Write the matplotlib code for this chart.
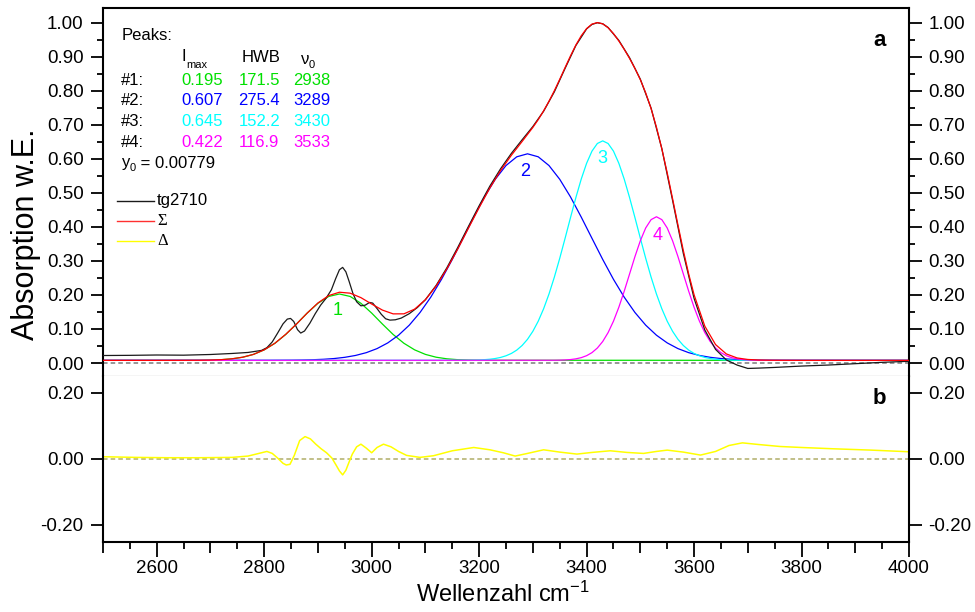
import matplotlib
matplotlib.use('Agg')
import matplotlib.pyplot as plt
from matplotlib.lines import Line2D
from matplotlib.ticker import MultipleLocator, FuncFormatter

W, H = 975, 612
plt.rcParams['font.family'] = ['Liberation Sans', 'DejaVu Sans']
plt.rcParams['mathtext.default'] = 'regular'

# fit parameters shown in the chart
PEAK_IMAX = [0.195, 0.607, 0.645, 0.422]
PEAK_HWB = [171.5, 275.4, 152.2, 116.9]
PEAK_NU0 = [2938, 3289, 3430, 3533]
Y0 = 0.00779

# measured spectrum tg2710
BLACK_WN = [2500, 2550, 2600, 2650, 2700, 2740, 2770, 2795, 2805, 2815, 2825, 2835, 2843, 2849,
            2855, 2862, 2868, 2875, 2885, 2895, 2905, 2915, 2925, 2933, 2940, 2946, 2952, 2958,
            2965, 2972, 2980, 2988, 2996, 3002, 3010, 3018, 3026, 3034, 3044, 3055, 3070, 3085,
            3100, 3120, 3140, 3160, 3180, 3200, 3220, 3240, 3260, 3280, 3300, 3320, 3340, 3360,
            3380, 3400, 3410, 3420, 3430, 3440, 3460, 3480, 3500, 3520, 3540, 3560, 3580, 3600,
            3620, 3640, 3660, 3680, 3700, 3720, 3750, 3800, 3850, 3900, 3950, 4000]
BLACK_ABS = [0.022, 0.0225, 0.0235, 0.023, 0.025, 0.028, 0.031, 0.037, 0.045, 0.062, 0.088, 0.115,
             0.129, 0.131, 0.122, 0.098, 0.088, 0.094, 0.117, 0.145, 0.170, 0.190, 0.215, 0.248,
             0.274, 0.281, 0.268, 0.240, 0.205, 0.180, 0.168, 0.170, 0.178, 0.176, 0.160, 0.143,
             0.130, 0.126, 0.127, 0.132, 0.145, 0.163, 0.186, 0.228, 0.280, 0.339, 0.401, 0.462,
             0.520, 0.571, 0.616, 0.656, 0.695, 0.740, 0.797, 0.866, 0.933, 0.982, 0.995, 1.000,
             0.997, 0.986, 0.948, 0.897, 0.834, 0.749, 0.630, 0.478, 0.322, 0.190, 0.097, 0.040,
             0.009, -0.006, -0.016, -0.015, -0.013, -0.009, -0.006, -0.002, 0.002, 0.005]

# sum of fitted peaks
SUM_WN = [2500, 2550, 2600, 2650, 2680, 2700, 2720, 2740, 2760, 2780, 2800, 2820, 2840, 2860,
          2880, 2900, 2920, 2940, 2960, 2980, 3000, 3020, 3040, 3060, 3080, 3100, 3120, 3140,
          3160, 3180, 3200, 3220, 3240, 3260, 3280, 3300, 3310, 3320, 3330, 3340, 3350, 3360,
          3370, 3380, 3390, 3400, 3410, 3420, 3430, 3440, 3450, 3460, 3470, 3480, 3490, 3500,
          3510, 3520, 3530, 3540, 3550, 3560, 3570, 3580, 3590, 3600, 3620, 3640, 3660, 3680,
          3700, 3720, 3740, 3760, 3780, 3800, 3850, 3900, 3950, 4000]
SUM_ABS = [0.0078, 0.0078, 0.0078, 0.0079, 0.0081, 0.0087, 0.0098, 0.0123, 0.0170, 0.0253, 0.0387,
           0.0582, 0.0842, 0.1143, 0.1468, 0.1764, 0.1981, 0.2080, 0.2052, 0.1921, 0.1733, 0.1555,
           0.1444, 0.1445, 0.1583, 0.1860, 0.2262, 0.2767, 0.3343, 0.3959, 0.4566, 0.5145, 0.5658,
           0.6105, 0.6510, 0.6924, 0.7153, 0.7409, 0.7691, 0.8003, 0.8337, 0.8684, 0.9025, 0.9343,
           0.9616, 0.9827, 0.9960, 1.0004, 0.9967, 0.9853, 0.9681, 0.9464, 0.9219, 0.8950, 0.8657,
           0.8326, 0.7938, 0.7477, 0.6930, 0.6296, 0.5588, 0.4830, 0.4058, 0.3308, 0.2616, 0.2007,
           0.1083, 0.0542, 0.0267, 0.0149, 0.0104, 0.0088, 0.0082, 0.0080, 0.0079, 0.0078, 0.0078,
           0.0078, 0.0078, 0.0078]

# peak 1 (green)
P1_WN = [2500, 2680, 2700, 2720, 2740, 2760, 2780, 2800, 2820, 2840, 2860, 2880, 2900, 2920, 2940,
         2960, 2980, 3000, 3020, 3040, 3060, 3080, 3100, 3120, 3140, 3160, 3180, 3200, 4000]
P1_ABS = [0.0078, 0.0081, 0.0087, 0.0098, 0.0123, 0.0170, 0.0253, 0.0386, 0.0580, 0.0838, 0.1145,
          0.1467, 0.1755, 0.1956, 0.2028, 0.1956, 0.1755, 0.1467, 0.1145, 0.0838, 0.0580, 0.0386,
          0.0253, 0.0170, 0.0123, 0.0098, 0.0087, 0.0081, 0.0078]

# peak 2 (blue)
P2_WN = [2500, 2790, 2810, 2830, 2850, 2870, 2890, 2910, 2930, 2950, 2970, 2990, 3010, 3030, 3050,
         3070, 3090, 3110, 3130, 3150, 3170, 3190, 3210, 3230, 3250, 3270, 3290, 3310, 3330, 3350,
         3370, 3390, 3410, 3430, 3450, 3470, 3490, 3510, 3530, 3550, 3570, 3590, 3610, 3630, 3650,
         3670, 3690, 3710, 3730, 3750, 3770, 3790, 4000]
P2_ABS = [0.0078, 0.0079, 0.0079, 0.0081, 0.0083, 0.0088, 0.0096, 0.0109, 0.0131, 0.0167, 0.0222,
          0.0304, 0.0423, 0.0591, 0.0817, 0.1112, 0.1484, 0.1935, 0.2459, 0.3043, 0.3664, 0.4289,
          0.4882, 0.5399, 0.5803, 0.6060, 0.6148, 0.6060, 0.5803, 0.5399, 0.4882, 0.4289, 0.3664,
          0.3043, 0.2459, 0.1935, 0.1484, 0.1112, 0.0817, 0.0591, 0.0423, 0.0304, 0.0222, 0.0167,
          0.0131, 0.0109, 0.0096, 0.0088, 0.0083, 0.0081, 0.0079, 0.0079, 0.0078]

# peak 3 (cyan)
P3_WN = [2500, 3180, 3190, 3200, 3210, 3220, 3230, 3240, 3250, 3260, 3270, 3280, 3290, 3300, 3310,
         3320, 3330, 3340, 3350, 3360, 3370, 3380, 3390, 3400, 3410, 3420, 3430, 3440, 3450, 3460,
         3470, 3480, 3490, 3500, 3510, 3520, 3530, 3540, 3550, 3560, 3570, 3580, 3590, 3600, 3610,
         3620, 3630, 3640, 3650, 3660, 3670, 3680, 4000]
P3_ABS = [0.0078, 0.0082, 0.0085, 0.0089, 0.0098, 0.0111, 0.0132, 0.0164, 0.0212, 0.0281, 0.0379,
          0.0515, 0.0696, 0.0932, 0.1229, 0.1594, 0.2027, 0.2525, 0.3077, 0.3667, 0.4271, 0.4860,
          0.5404, 0.5869, 0.6227, 0.6451, 0.6528, 0.6451, 0.6227, 0.5869, 0.5404, 0.4860, 0.4271,
          0.3667, 0.3077, 0.2525, 0.2027, 0.1594, 0.1229, 0.0932, 0.0696, 0.0515, 0.0379, 0.0281,
          0.0212, 0.0164, 0.0132, 0.0111, 0.0098, 0.0089, 0.0085, 0.0082, 0.0078]

# peak 4 (magenta)
P4_WN = [2500, 3340, 3350, 3360, 3370, 3380, 3390, 3400, 3410, 3420, 3430, 3440, 3450, 3460, 3470,
         3480, 3490, 3500, 3510, 3520, 3530, 3540, 3550, 3560, 3570, 3580, 3590, 3600, 3610, 3620,
         3630, 3640, 3650, 3660, 3670, 3680, 3690, 3700, 3710, 3720, 4000]
P4_ABS = [0.0078, 0.0081, 0.0084, 0.0090, 0.0101, 0.0122, 0.0157, 0.0215, 0.0305, 0.0440, 0.0632,
          0.0893, 0.1229, 0.1639, 0.2110, 0.2618, 0.3128, 0.3593, 0.3969, 0.4213, 0.4298, 0.4213,
          0.3969, 0.3593, 0.3128, 0.2618, 0.2110, 0.1639, 0.1229, 0.0893, 0.0632, 0.0440, 0.0305,
          0.0215, 0.0157, 0.0122, 0.0101, 0.0090, 0.0084, 0.0081, 0.0078]

# residual (panel b)
DELTA_WN = [2500, 2560, 2620, 2680, 2740, 2770, 2790, 2805, 2815, 2825, 2835, 2841, 2848, 2856,
            2866, 2876, 2886, 2896, 2906, 2916, 2926, 2934, 2940, 2946, 2952, 2958, 2964, 2972,
            2980, 2990, 3000, 3010, 3022, 3036, 3050, 3065, 3090, 3115, 3150, 3190, 3220, 3245,
            3267, 3290, 3320, 3350, 3382, 3410, 3444, 3475, 3506, 3530, 3550, 3580, 3612, 3640,
            3665, 3690, 3720, 3760, 3800, 3860, 3930, 4000]
DELTA_ABS = [0.006, 0.004, 0.003, 0.003, 0.004, 0.008, 0.016, 0.022, 0.016, 0.002, -0.014, -0.019,
             -0.017, 0.010, 0.055, 0.067, 0.060, 0.044, 0.030, 0.018, 0.002, -0.020, -0.037,
             -0.049, -0.035, -0.010, 0.014, 0.036, 0.044, 0.032, 0.018, 0.034, 0.044, 0.036,
             0.022, 0.010, 0.004, 0.009, 0.024, 0.034, 0.027, 0.018, 0.008, 0.016, 0.027, 0.020,
             0.014, 0.019, 0.024, 0.019, 0.016, 0.022, 0.026, 0.020, 0.011, 0.022, 0.040, 0.048,
             0.043, 0.037, 0.034, 0.030, 0.026, 0.021]

PEAK_COLORS = ['#00e000', '#0000ff', '#00ffff', '#ff00ff']
PEAK_LABEL_POS = [(2937, 0.153), (3285, 0.563), (3429, 0.600), (3533, 0.376)]


def fx(px):
    return px / W


def fy(py):
    return 1 - py / H


def fmt2(v, pos=None):
    if abs(v) < 1e-9:
        v = 0.0
    return '%.2f' % v


fig = plt.figure(figsize=(W / 100, H / 100), dpi=100)
ax_a = fig.add_axes([fx(103), fy(376), fx(909) - fx(103), fy(8) - fy(376)])
ax_b = fig.add_axes([fx(103), fy(541.7), fx(909) - fx(103), fy(376) - fy(541.7)], sharex=ax_a)

# panel a
ax_a.axhline(0, color='#7a7a7a', lw=1.1, ls=(0, (3, 2)), zorder=1)
for wn, ab, col in zip([P1_WN, P2_WN, P3_WN, P4_WN], [P1_ABS, P2_ABS, P3_ABS, P4_ABS], PEAK_COLORS):
    ax_a.plot(wn, ab, color=col, lw=0.9, zorder=2)
ax_a.plot(BLACK_WN, BLACK_ABS, color='#1a1a1a', lw=0.9, zorder=3)
ax_a.plot(SUM_WN, SUM_ABS, color='#ff0000', lw=0.9, zorder=4)
for i, (x, y) in enumerate(PEAK_LABEL_POS):
    ax_a.text(x, y, str(i + 1), color=PEAK_COLORS[i], fontsize=13, ha='center', va='center')

ax_a.set_xlim(2500, 4000)
ax_a.set_ylim(-0.0382, 1.0433)
ax_a.yaxis.set_major_locator(MultipleLocator(0.1))
ax_a.yaxis.set_minor_locator(MultipleLocator(0.05))
ax_a.yaxis.set_major_formatter(FuncFormatter(fmt2))
ax_a.tick_params(axis='x', which='both', bottom=False, top=False, labelbottom=False)
ax_a.tick_params(axis='y', which='both', direction='out', left=True, right=True,
                 labelleft=True, labelright=True, width=1.3, labelsize=13.5, pad=5)
ax_a.tick_params(axis='y', which='major', length=9)
ax_a.tick_params(axis='y', which='minor', length=4.5)
for s in ['top', 'left', 'right']:
    ax_a.spines[s].set_linewidth(1.5)
ax_a.spines['bottom'].set_color('#b4b4b4')
ax_a.spines['bottom'].set_linewidth(0.9)

# panel b
ax_b.axhline(0, color='#b0ad68', lw=1.1, ls=(0, (3, 2)), zorder=1)
ax_b.plot(DELTA_WN, DELTA_ABS, color='#ffff00', lw=1.1, zorder=2)
ax_b.set_ylim(-0.2515, 0.2506)
ax_b.set_yticks([-0.2, 0.0, 0.2])
ax_b.yaxis.set_major_formatter(FuncFormatter(fmt2))
ax_b.tick_params(axis='y', which='both', direction='out', left=True, right=True,
                 labelleft=True, labelright=True, width=1.3, length=9, labelsize=13.5, pad=5)
ax_b.xaxis.set_major_locator(MultipleLocator(100))
ax_b.xaxis.set_minor_locator(MultipleLocator(50))
ax_b.xaxis.set_major_formatter(FuncFormatter(lambda v, p: '%d' % v if round(v) % 200 == 0 else ''))
ax_b.tick_params(axis='x', which='both', direction='out', bottom=True, top=False, width=1.3,
                 labelsize=13.5, pad=5)
ax_b.tick_params(axis='x', which='major', length=8)
ax_b.tick_params(axis='x', which='minor', length=5)
ax_b.spines['top'].set_visible(False)
for s in ['bottom', 'left', 'right']:
    ax_b.spines[s].set_linewidth(1.5)
for loc, tick in zip(ax_b.xaxis.get_majorticklocs(), ax_b.xaxis.get_major_ticks()):
    if round(loc) % 200 == 0:
        tick.tick1line.set_markersize(11)

# axis labels
fig.text(fx(26), fy(234), 'Absorption w.E.', rotation=90, fontsize=22, ha='center', va='center')
fig.text(fx(503), fy(601.7), 'Wellenzahl cm$^{-1}$', fontsize=17, ha='center', va='baseline')

# panel letters
fig.text(fx(880), fy(40), 'a', fontsize=16, fontweight='bold', ha='center', va='center')
fig.text(fx(879), fy(398), 'b', fontsize=16, fontweight='bold', ha='center', va='center')

# peak table
fs = 12
fig.text(fx(121.7), fy(35.7), 'Peaks:', fontsize=fs, va='center')
fig.text(fx(181.7), fy(56.7), 'I', fontsize=fs, va='center')
fig.text(fx(186), fy(65), 'max', fontsize=8, va='center')
fig.text(fx(241.7), fy(57.3), 'HWB', fontsize=fs, va='center')
fig.text(fx(301), fy(59), '\u03bd', fontsize=fs, va='center')
fig.text(fx(309), fy(64.5), '0', fontsize=8, va='center')
row_y = [80.7, 100.7, 121.3, 142.3]
for i in range(4):
    fig.text(fx(120.7), fy(row_y[i]), '#%d:' % (i + 1), fontsize=fs, va='center')
    fig.text(fx(181.7), fy(row_y[i]), '%.3f' % PEAK_IMAX[i], fontsize=fs, va='center',
             color=PEAK_COLORS[i])
    fig.text(fx(238.3), fy(row_y[i]), '%.1f' % PEAK_HWB[i], fontsize=fs, va='center',
             color=PEAK_COLORS[i])
    fig.text(fx(293.3), fy(row_y[i]), '%d' % PEAK_NU0[i], fontsize=fs, va='center',
             color=PEAK_COLORS[i])
fig.text(fx(121.7), fy(162.5), 'y', fontsize=fs, va='center')
fig.text(fx(129.5), fy(168), '0', fontsize=8, va='center')
fig.text(fx(136), fy(163.3), ' = %.5f' % Y0, fontsize=fs, va='center')

# legend
legend_items = [('tg2710', '#1a1a1a', 'Liberation Sans', 201),
                ('\u03a3', '#ff3030', 'Liberation Serif', 220.7),
                ('\u0394', '#ffff00', 'Liberation Serif', 240.7)]
for label, col, fam, yy in legend_items:
    fig.add_artist(Line2D([fx(117), fx(154)], [fy(yy), fy(yy)], color=col, lw=1.0,
                          transform=fig.transFigure))
    fig.text(fx(157), fy(yy), label, fontsize=fs, va='center', family=fam)

fig.savefig('out.png', dpi=100)
